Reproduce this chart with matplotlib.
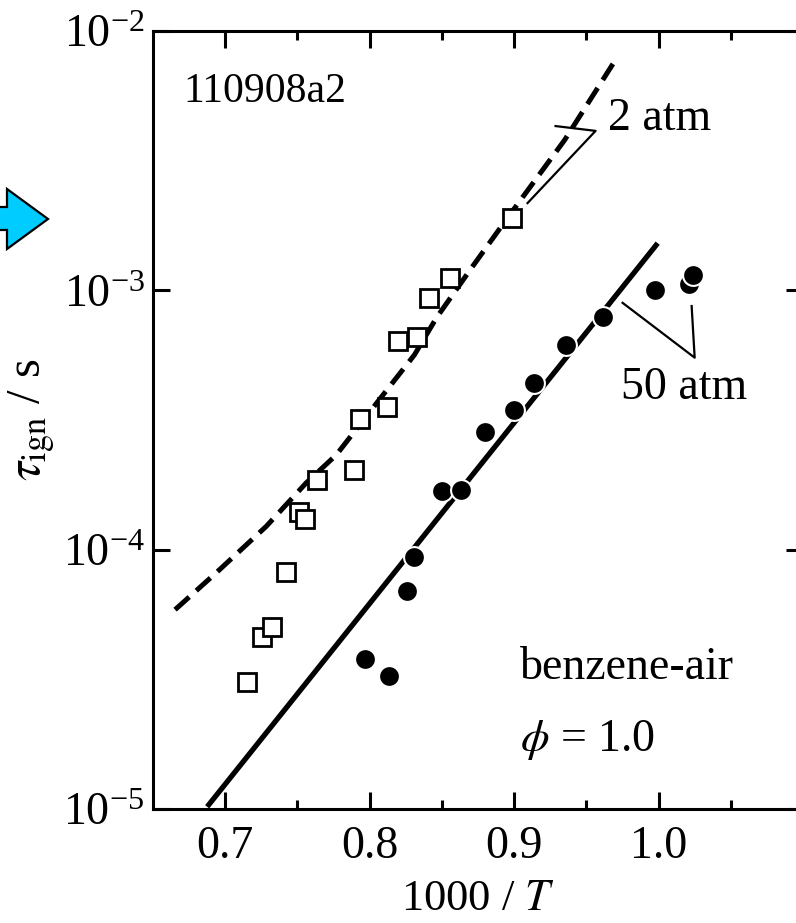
import numpy as np
import matplotlib
matplotlib.use("Agg")
import matplotlib.pyplot as plt
from matplotlib.ticker import FixedLocator, FuncFormatter, NullLocator
from matplotlib.patches import Polygon

plt.rcParams['font.family'] = ['Liberation Serif', 'DejaVu Serif']
plt.rcParams['mathtext.fontset'] = 'stix'

# 2 atm measurements (open squares)
x_2atm = [0.7152, 0.7256, 0.7326, 0.7423, 0.7513, 0.7554, 0.7638, 0.7894,
          0.7936, 0.8123, 0.8199, 0.8331, 0.8414, 0.8559, 0.8982]
tau_2atm = [3.10e-5, 4.62e-5, 5.05e-5, 8.22e-5, 1.40e-4, 1.31e-4, 1.86e-4, 2.03e-4,
            3.20e-4, 3.56e-4, 6.38e-4, 6.62e-4, 9.35e-4, 1.12e-3, 1.90e-3]

# 50 atm measurements (filled circles)
x_50atm = [0.797, 0.8137, 0.8261, 0.831, 0.8504, 0.8629, 0.880, 0.8996,
           0.9141, 0.9356, 0.9613, 0.9973, 1.0209, 1.0236]
tau_50atm = [3.80e-5, 3.27e-5, 6.95e-5, 9.4e-5, 1.69e-4, 1.70e-4, 2.85e-4, 3.47e-4,
             4.41e-4, 6.17e-4, 7.91e-4, 1.00e-3, 1.06e-3, 1.15e-3]

# model curves
x_sim2 = [0.6653, 0.6938, 0.7284, 0.7561, 0.7769, 0.8067, 0.8310, 0.8462,
          0.8705, 0.8968, 0.935, 0.9710]
tau_sim2 = [5.87e-5, 8.15e-5, 1.23e-4, 1.81e-4, 2.32e-4, 3.79e-4, 5.64e-4, 7.83e-4,
            1.22e-3, 1.95e-3, 3.8e-3, 7.87e-3]
x_sim50 = [0.6875, 0.9994]
tau_sim50 = [1.02e-5, 1.52e-3]

fig = plt.figure(figsize=(7.96, 9.23), dpi=100)
ax = fig.add_axes([0.1922, 0.1235, 0.8166, 0.8429])

ax.plot(x_sim2, tau_sim2, color='black', lw=3.6, linestyle=(0, (3.8, 1.9)), zorder=2)
ax.plot(x_sim50, tau_sim50, color='black', lw=3.8, solid_capstyle='butt', zorder=2)
ax.plot(x_2atm, tau_2atm, 's', ms=12.5, mfc='white', mec='black', mew=2.0, zorder=3)
ax.plot(x_50atm, tau_50atm, 'o', ms=15, mfc='black', mec='white', mew=1.5, zorder=3)

ax.set_yscale('log')
ax.set_xlim(0.65, 1.1)
ax.set_ylim(1e-5, 1e-2)

ax.xaxis.set_major_locator(FixedLocator([0.7, 0.8, 0.9, 1.0]))
ax.xaxis.set_minor_locator(FixedLocator([0.75, 0.85, 0.95, 1.05]))
ax.xaxis.set_major_formatter(FuncFormatter(lambda v, p: f"{v:.1f}"))
ax.yaxis.set_major_locator(FixedLocator([1e-5, 1e-4, 1e-3, 1e-2]))
ax.yaxis.set_minor_locator(NullLocator())
ax.yaxis.set_major_formatter(FuncFormatter(
    lambda v, p: r'$\mathregular{10^{%d}}$' % int(round(np.log10(v)))))

ax.tick_params(which='both', direction='in', top=True, right=True,
               width=2.2, labelsize=33)
ax.tick_params(which='major', length=12.5)
ax.tick_params(which='minor', length=6.5)
ax.tick_params(axis='x', pad=12)
ax.tick_params(axis='y', pad=6)
for s in ax.spines.values():
    s.set_linewidth(2.2)

ax.set_xlabel(r'1000 / $\mathit{T}$', fontsize=32, labelpad=8)
ax.set_ylabel(r'$\tau_{\mathrm{ign}}$ / s', fontsize=35, labelpad=4)

# annotations
ax.text(0.046, 0.9216, '110908a2', transform=ax.transAxes, fontsize=30,
        ha='left', va='center')
ax.text(0.9647, 4.6e-3, '2 atm', fontsize=33, ha='left', va='center')
ax.plot([0.9287, 0.9564, 0.9093], [4.3e-3, 4.12e-3, 2.17e-3], color='black', lw=1.6)
ax.text(1.018, 4.2e-4, '50 atm', fontsize=33, ha='center', va='center')
ax.plot([0.9751, 1.025, 1.0229], [8.95e-4, 5.5e-4, 8.7e-4], color='black', lw=1.6)
ax.text(0.565, 0.181, 'benzene-air', transform=ax.transAxes, fontsize=33,
        ha='left', va='center')
ax.text(0.565, 0.0887, r'$\phi$ = 1.0', transform=ax.transAxes, fontsize=33,
        ha='left', va='center')

# blue arrow at the left edge
W, H = 796, 923
arrow_px = [(-10, 207), (7, 207), (7, 189), (48, 219), (7, 249), (7, 230), (-10, 230)]
arrow = Polygon([(px / W, 1 - py / H) for px, py in arrow_px], closed=True,
                transform=fig.transFigure, facecolor='#00CCFF', edgecolor='black',
                lw=1.6, clip_on=False)
fig.patches.append(arrow)

fig.savefig('out.png', dpi=100)
